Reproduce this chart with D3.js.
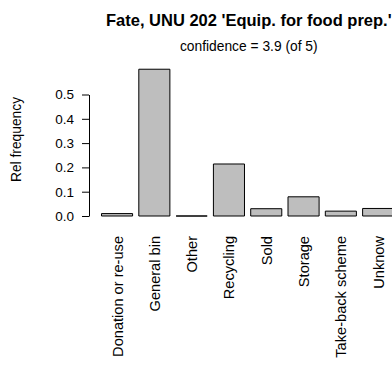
<!DOCTYPE html>
<html><head><meta charset="utf-8">
<script src="https://cdn.jsdelivr.net/npm/d3@7"></script>
<style>body{margin:0;background:#fff}svg{display:block}</style>
</head><body>
<script>
const categories = ["Donation or re-use","General bin","Other","Recycling","Sold","Storage","Take-back scheme","Unknow"];
const values = [0.010, 0.604, 0.0, 0.214, 0.030, 0.079, 0.020, 0.031];
const yTicks = [0.0, 0.1, 0.2, 0.3, 0.4, 0.5];
const title = "Fate, UNU 202 'Equip. for food prep.'";
const subtitle = "confidence = 3.9 (of 5)";
const yLabel = "Rel frequency";

const W = 392, H = 365;
const font = "'Liberation Sans', Arial, Helvetica, sans-serif";
const svg = d3.select("body").append("svg").attr("width", W).attr("height", H)
  .style("font-family", font);

const x = d3.scaleBand().domain(categories).range([101.5, 393.7])
  .paddingInner(1/6).paddingOuter(0);
const y = d3.scaleLinear().domain([0, 0.5]).range([216, 94.5]);
const cx = 248.8;

svg.append("text").attr("x", cx).attr("y", 26).attr("text-anchor", "middle")
  .attr("font-weight", "bold").attr("font-size", 16.5).text(title);
svg.append("text").attr("x", cx).attr("y", 50.5).attr("text-anchor", "middle")
  .attr("font-size", 13.8).text(subtitle);

svg.append("g").selectAll("path").data(values).join("path")
  .attr("d", (d, i) => {
    const x0 = x(categories[i]), w = x.bandwidth(), y0 = y(0), y1 = y(d);
    return `M${x0},${y0}V${y1}H${x0 + w}V${y0}Z`;
  })
  .attr("fill", "#bebebe").attr("stroke", "#000").attr("stroke-width", 1);

const yAxis = d3.axisLeft(y).tickValues(yTicks).tickFormat(d3.format(".1f"))
  .tickSize(7).tickPadding(8).tickSizeOuter(0);
const gy = svg.append("g").attr("transform", "translate(89,0)").call(yAxis);
gy.select(".domain").attr("stroke", "#000").attr("stroke-width", 1);
gy.selectAll(".tick line").attr("stroke", "#000");
gy.selectAll("text").attr("font-size", 13.5).attr("font-family", font).attr("fill", "#000");

svg.append("text").attr("transform", "translate(21,139.5) rotate(-90)")
  .attr("text-anchor", "middle").attr("font-size", 13.8).text(yLabel);

svg.append("g").selectAll("text").data(categories).join("text")
  .attr("transform", d => `translate(${x(d) + x.bandwidth()/2 + 5.5},236) rotate(-90)`)
  .attr("text-anchor", "end").attr("font-size", 14.6).text(d => d);
</script>
</body></html>
